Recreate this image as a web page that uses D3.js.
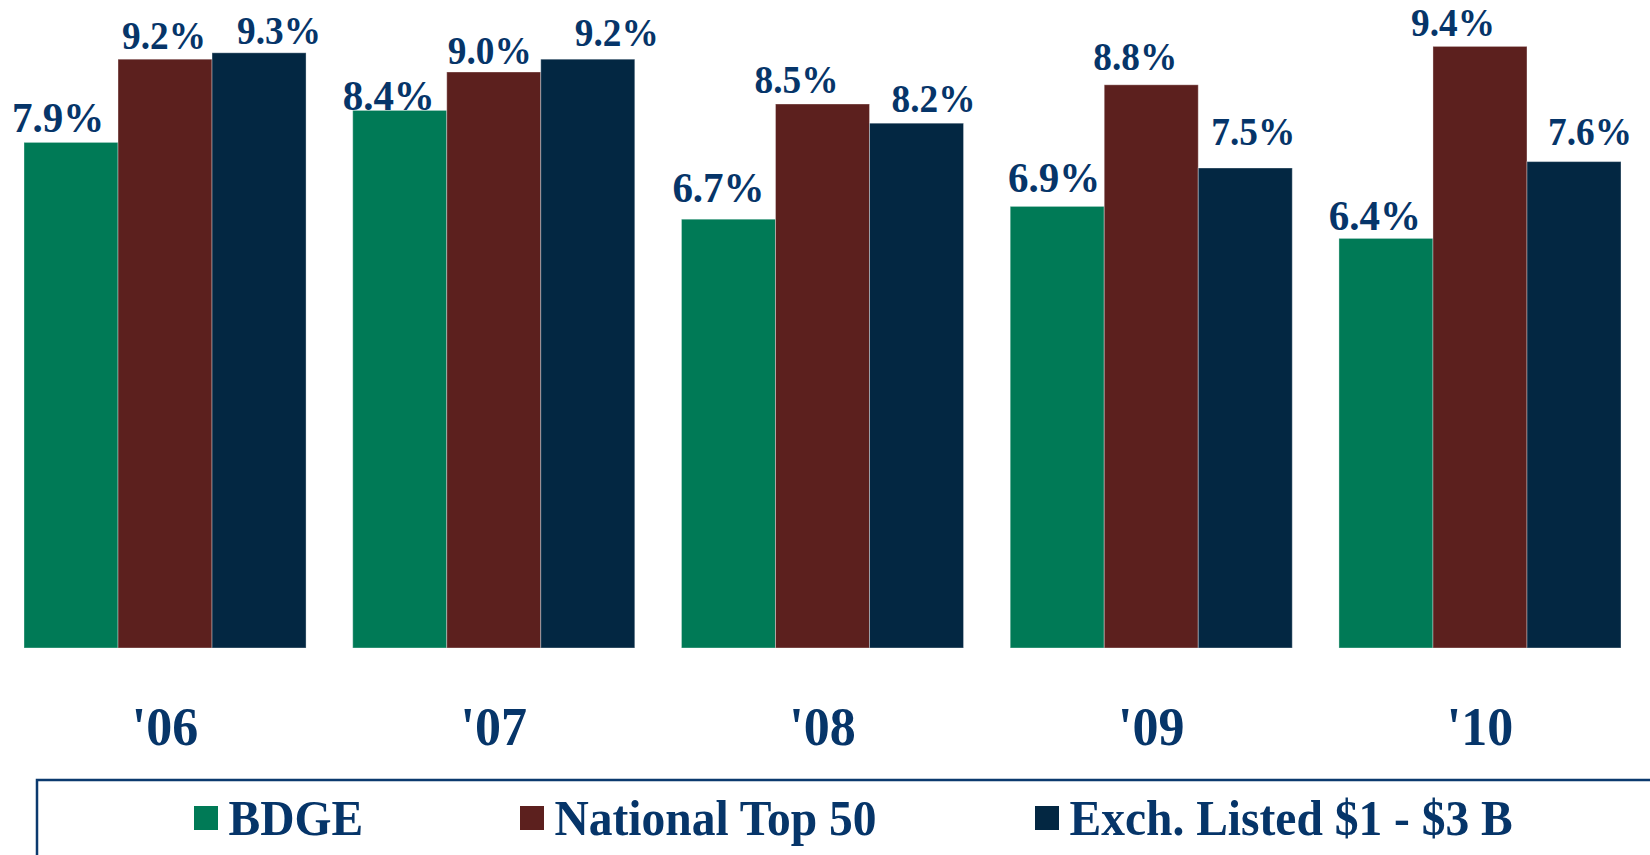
<!DOCTYPE html>
<html>
<head>
<meta charset="utf-8">
<script src="https://cdn.jsdelivr.net/npm/d3@7"></script>
<style>
  html, body { margin: 0; padding: 0; background: #ffffff; }
  svg { display: block; }
  text { font-family: "Liberation Serif", "Times New Roman", serif; font-weight: bold; fill: #063569; }
</style>
</head>
<body>
<svg id="chart" width="1650" height="855"></svg>
<script>
// Years on the x axis
const years = ["'06", "'07", "'08", "'09", "'10"];
// Series names (legend order)
const seriesNames = ["BDGE", "National Top 50", "Exch. Listed $1 - $3 B"];
// Values in percent, one array per series
const bdge        = [7.9, 8.4, 6.7, 6.9, 6.4];
const nationalTop = [9.2, 9.0, 8.5, 8.8, 9.4];
const exchListed  = [9.3, 9.2, 8.2, 7.5, 7.6];

// Styling
const seriesColors = ["#007a56", "#5c201e", "#032742"];
const textColor = "#063569";
const fontFamily = "'Liberation Serif', 'Times New Roman', serif";
const labelFontSize = [41, 37.3, 37.3];

// Hand-placed nudges for value labels [dx, gap above bar], per year, per series
const labelNudge = [
  [[-13, 10], [-1, 10], [20, 9]],
  [[-11, 0], [-4, 8], [29, 13]],
  [[-10, 17], [-26, 11], [17, 11]],
  [[-3, 14], [-16, 15], [8, 23]],
  [[-11, 8], [-27, 10], [16, 17]]
];

const seriesValues = [bdge, nationalTop, exchListed];
const data = years.map((yr, i) => ({
  year: yr,
  values: seriesNames.map((name, s) => ({ series: s, name, value: seriesValues[s][i] }))
}));

const svg = d3.select("#chart");
const stretch = 1.05;

const x0 = d3.scaleBand().domain(years).range([24, 1621]).paddingInner(0.142).paddingOuter(0);
const x1 = d3.scaleBand().domain(d3.range(seriesNames.length)).range([0, x0.bandwidth()]).padding(0);
const y = d3.scaleLinear().domain([0, 10]).range([648, 8]);

const groups = svg.append("g").selectAll("g.year")
  .data(data)
  .join("g")
  .attr("class", "year")
  .attr("transform", d => `translate(${x0(d.year)},0)`);

groups.selectAll("rect")
  .data(d => d.values)
  .join("rect")
  .attr("x", d => x1(d.series))
  .attr("y", d => y(d.value))
  .attr("width", x1.bandwidth())
  .attr("height", d => y(0) - y(d.value))
  .attr("fill", d => seriesColors[d.series])
  .attr("stroke", "rgba(255,255,255,0.35)")
  .attr("stroke-width", 1);

// Value labels
groups.each(function (d, i) {
  d3.select(this).selectAll("text.val")
    .data(d.values)
    .join("text")
    .attr("class", "val")
    .attr("text-anchor", "middle")
    .attr("font-family", fontFamily)
    .attr("font-weight", "bold")
    .attr("fill", textColor)
    .attr("font-size", v => labelFontSize[v.series])
    .attr("transform", v => {
      const nx = x1(v.series) + x1.bandwidth() / 2 + labelNudge[i][v.series][0];
      const ny = y(v.value) - labelNudge[i][v.series][1];
      return `translate(${nx},${ny}) scale(1,${stretch})`;
    })
    .text(v => d3.format(".1f")(v.value) + "%");
});

// Year labels
const xAxis = d3.axisBottom(x0).tickSize(0).tickPadding(0);
const axisG = svg.append("g").call(xAxis);
axisG.select(".domain").remove();
axisG.selectAll(".tick text")
  .attr("y", 0)
  .attr("dy", 0)
  .attr("font-size", 52)
  .attr("font-family", fontFamily)
  .attr("font-weight", "bold")
  .attr("fill", textColor)
  .attr("transform", `translate(0,745) scale(1,${stretch})`);

// Legend box
svg.append("rect")
  .attr("x", 37).attr("y", 780)
  .attr("width", 1700).attr("height", 200)
  .attr("fill", "none")
  .attr("stroke", "#0b3a6e")
  .attr("stroke-width", 2.5);

const legendX = [194, 520, 1035];
const legend = svg.append("g").selectAll("g")
  .data(seriesNames)
  .join("g")
  .attr("transform", (d, i) => `translate(${legendX[i]},0)`);
legend.append("rect")
  .attr("x", 0).attr("y", 806)
  .attr("width", 24).attr("height", 24)
  .attr("fill", (d, i) => seriesColors[i]);
legend.append("text")
  .attr("font-size", 47.5)
  .attr("font-family", fontFamily)
  .attr("font-weight", "bold")
  .attr("fill", textColor)
  .attr("transform", `translate(34.5,835) scale(1,${stretch})`)
  .text(d => d);
</script>
</body>
</html>
